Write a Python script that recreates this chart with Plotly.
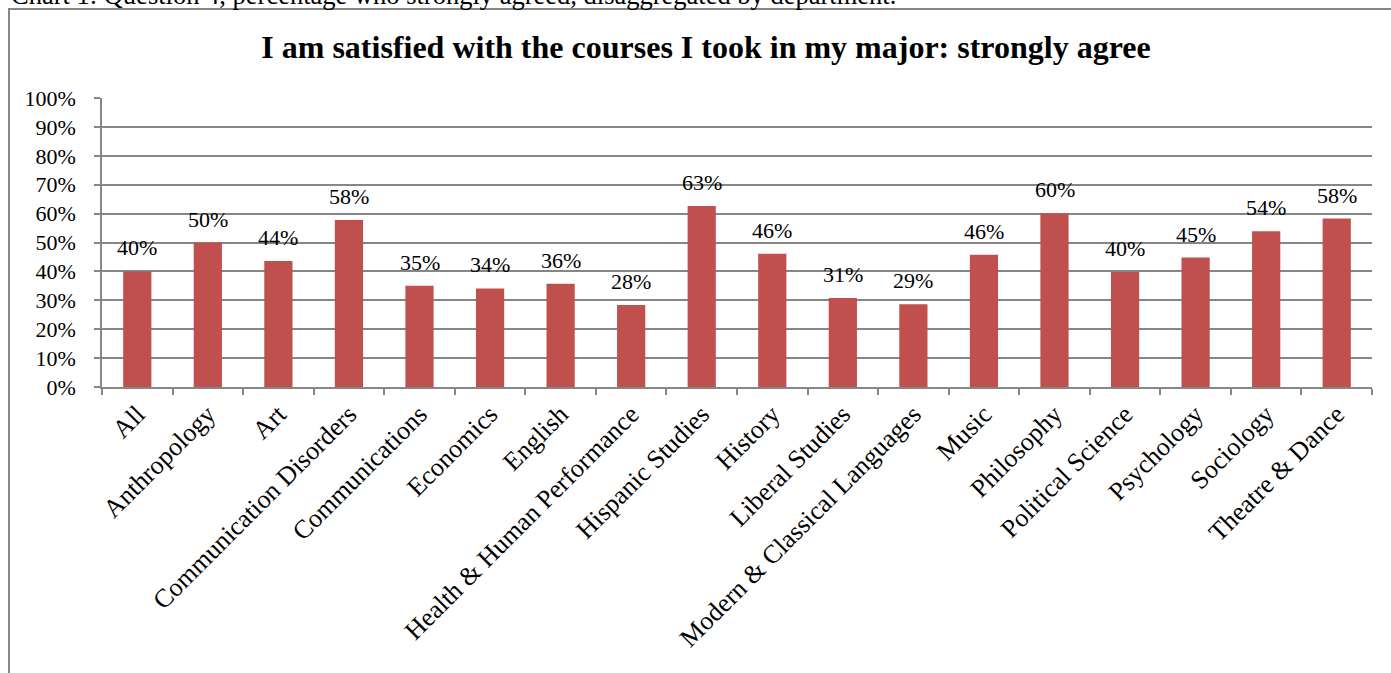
import plotly.graph_objects as go

departments = ["All", "Anthropology", "Art", "Communication Disorders", "Communications",
               "Economics", "English", "Health & Human Performance", "Hispanic Studies",
               "History", "Liberal Studies", "Modern & Classical Languages", "Music",
               "Philosophy", "Political Science", "Psychology", "Sociology", "Theatre & Dance"]
strongly_agree = [0.40, 0.50, 0.436, 0.578, 0.350, 0.341, 0.357, 0.284, 0.626,
                  0.461, 0.308, 0.286, 0.458, 0.601, 0.398, 0.448, 0.539, 0.583]
y_ticks = [i / 10 for i in range(11)]

title_text = "I am satisfied with the courses I took in my major: strongly agree"
caption_text = "Chart 1: Question 4, percentage who strongly agreed, disaggregated by department."

FONT = "Liberation Serif, Times New Roman, serif"
GRID = "#868686"
BAR = "#C0504D"

W, H = 1391, 673
L, R, T, B = 102, 19, 98, 286
PW, PH = W - L - R, H - T - B

def px_x(px):
    return (px - L) / PW

def px_y(py):
    return (H - B - py) / PH

fig = go.Figure()
fig.add_trace(go.Bar(
    x=departments, y=strongly_agree,
    marker=dict(color=BAR, line=dict(width=0)),
    hoverinfo="x+y",
))

annotations = []
for d, v in zip(departments, strongly_agree):
    annotations.append(dict(
        x=d, y=v, xref="x", yref="y", text=f"{v:.0%}", showarrow=False,
        yanchor="bottom", yshift=9, font=dict(family=FONT, size=22, color="black"),
    ))
annotations.append(dict(
    x=px_x(9), y=px_y(-5), xref="paper", yref="paper", text=caption_text,
    showarrow=False, xanchor="left", yanchor="middle",
    font=dict(family=FONT, size=26.5, color="black"),
))

fig.update_layout(
    width=W, height=H,
    margin=dict(l=L, r=R, t=T, b=B, pad=0),
    paper_bgcolor="white", plot_bgcolor="white",
    bargap=0.6,
    showlegend=False,
    title=dict(text=f"<b>{title_text}</b>", x=706 / W, xanchor="center",
               y=1 - 47 / H, yanchor="middle",
               font=dict(family=FONT, size=32, color="black")),
    font=dict(family=FONT, size=22, color="black"),
    annotations=annotations,
    shapes=[dict(type="rect", xref="paper", yref="paper",
                 x0=px_x(9), x1=px_x(1400), y0=px_y(700), y1=px_y(9),
                 line=dict(color=GRID, width=2), fillcolor="rgba(0,0,0,0)", layer="below")],
)
fig.update_xaxes(
    type="category", tickangle=-45, tickson="boundaries",
    ticks="outside", ticklen=6, tickcolor=GRID, tickwidth=1.5,
    showline=True, linecolor=GRID, linewidth=1.5, showgrid=False,
    tickfont=dict(family=FONT, size=26, color="black"),
)
fig.update_yaxes(
    range=[0, 1], tickvals=y_ticks, tickformat=".0%",
    ticks="outside", ticklen=6, tickcolor=GRID, tickwidth=1.5,
    showline=True, linecolor=GRID, linewidth=1.5,
    showgrid=True, gridcolor=GRID, gridwidth=1.5, zeroline=False,
    ticklabelstandoff=14,
    tickfont=dict(family=FONT, size=22, color="black"),
)

fig.write_html("out.html", config={"displayModeBar": False},
               post_script="document.body.style.margin='0';")
